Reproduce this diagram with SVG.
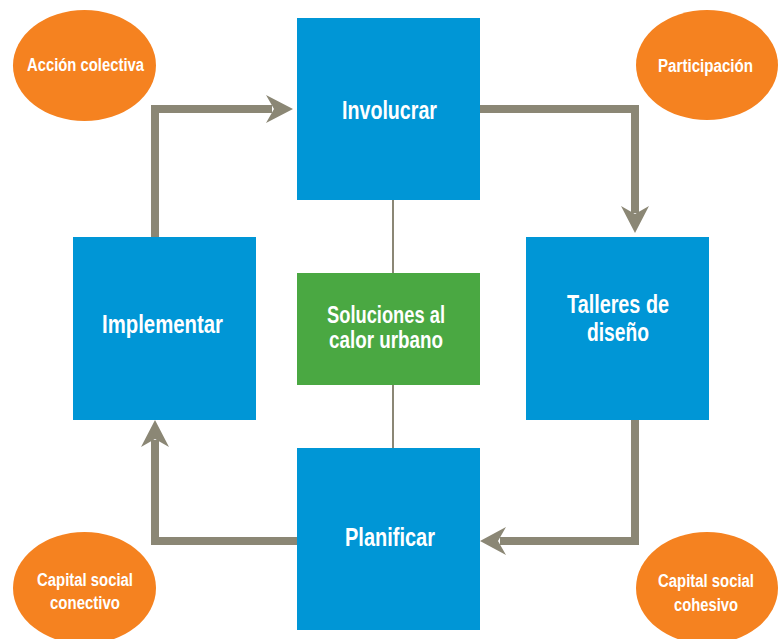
<svg xmlns="http://www.w3.org/2000/svg" width="784" height="639" viewBox="0 0 784 639">
<style>
.box{fill:#0096d6}
.green{fill:#4aa842}
.oval{fill:#f58220}
.t{font-family:"Liberation Sans",Arial,sans-serif;font-weight:bold;fill:#fff;text-anchor:middle}
.big{font-size:26px}
.mid{font-size:24px}
.sm{font-size:18px}
.flow{fill:none;stroke:#8b8775;stroke-width:8}
.thin{fill:none;stroke:#8b8775;stroke-width:2}
.head{fill:#8b8775}
</style>
<rect width="784" height="639" fill="#fff"/>
<g id="connectors">
<line class="thin" x1="393" y1="200" x2="393" y2="273"/>
<line class="thin" x1="393" y1="385" x2="393" y2="448"/>
<polyline class="flow" points="155,237 155,109 272,109"/>
<path class="head" d="M293,109 L266,95 L274,109 L266,123 Z"/>
<polyline class="flow" points="480,109 635,109 635,213"/>
<path class="head" d="M635,233 L621,206 L635,214 L649,206 Z"/>
<polyline class="flow" points="635,420 635,541 500,541"/>
<path class="head" d="M480,541 L506,527 L498,541 L506,555 Z"/>
<polyline class="flow" points="297,541 155,541 155,440"/>
<path class="head" d="M155,420 L141,447 L155,439 L169,447 Z"/>
</g>
<g id="involucrar"><rect class="box" x="297" y="18" width="183" height="182"/><text class="t big" x="389.5" y="119" textLength="95" lengthAdjust="spacingAndGlyphs">Involucrar</text></g>
<g id="implementar"><rect class="box" x="73" y="237" width="183" height="183"/><text class="t big" x="162.5" y="333" textLength="121" lengthAdjust="spacingAndGlyphs">Implementar</text></g>
<g id="talleres"><rect class="box" x="526" y="237" width="183" height="183"/><text class="t big" x="618" y="313" textLength="102" lengthAdjust="spacingAndGlyphs">Talleres de</text><text class="t big" x="618" y="341" textLength="62" lengthAdjust="spacingAndGlyphs">diseño</text></g>
<g id="planificar"><rect class="box" x="297" y="448" width="183" height="182"/><text class="t big" x="390" y="546" textLength="90" lengthAdjust="spacingAndGlyphs">Planificar</text></g>
<g id="soluciones"><rect class="green" x="297" y="273" width="183" height="112"/><text class="t mid" x="386" y="323" textLength="118" lengthAdjust="spacingAndGlyphs">Soluciones al</text><text class="t mid" x="386" y="348" textLength="114" lengthAdjust="spacingAndGlyphs">calor urbano</text></g>
<g id="accion"><ellipse class="oval" cx="84.5" cy="65.5" rx="71.5" ry="55.5"/><text class="t sm" x="85.5" y="71" textLength="117" lengthAdjust="spacingAndGlyphs">Acción colectiva</text></g>
<g id="participacion"><ellipse class="oval" cx="707" cy="65" rx="71" ry="55"/><text class="t sm" x="705.5" y="72" textLength="95" lengthAdjust="spacingAndGlyphs">Participación</text></g>
<g id="conectivo"><ellipse class="oval" cx="84.5" cy="588" rx="71.5" ry="56"/><text class="t sm" x="85" y="586" textLength="96" lengthAdjust="spacingAndGlyphs">Capital social</text><text class="t sm" x="85" y="609" textLength="70" lengthAdjust="spacingAndGlyphs">conectivo</text></g>
<g id="cohesivo"><ellipse class="oval" cx="707" cy="588" rx="71" ry="56"/><text class="t sm" x="706" y="587" textLength="96" lengthAdjust="spacingAndGlyphs">Capital social</text><text class="t sm" x="706" y="611" textLength="64" lengthAdjust="spacingAndGlyphs">cohesivo</text></g>
</svg>
